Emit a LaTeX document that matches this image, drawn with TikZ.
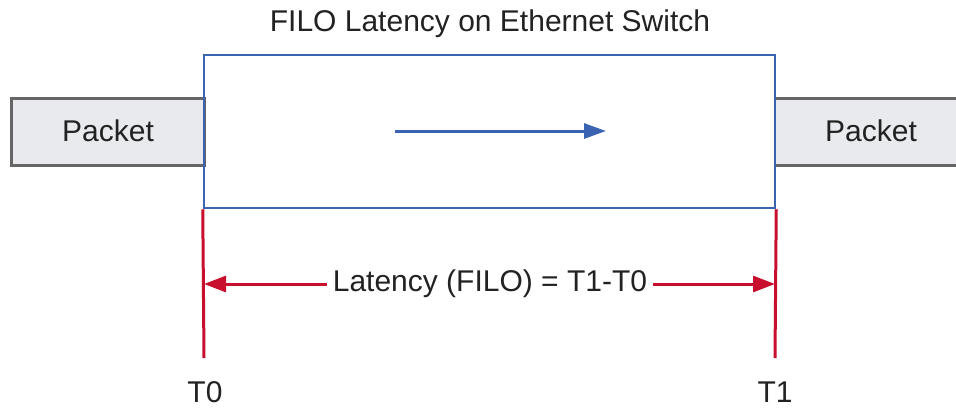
\documentclass[tikz,border=0pt]{standalone}
\usepackage{fontspec}
\setmainfont{Liberation Sans}
\usetikzlibrary{arrows.meta}
\definecolor{boxblue}{HTML}{3A64B2}
\definecolor{markred}{HTML}{C8102E}
\definecolor{pktfill}{HTML}{E8EAEE}
\definecolor{pktedge}{HTML}{666666}
\definecolor{ink}{HTML}{222222}
\begin{document}
\begin{tikzpicture}[x=1pt,y=-1pt,
  lbl/.style={font=\fontsize{30}{35}\selectfont, text=ink, inner sep=0pt},
  pkt/.style={fill=pktfill, draw=pktedge, line width=3pt},
  redline/.style={draw=markred, line width=3pt},
  redarrow/.style={draw=markred, line width=3pt, -{Triangle[length=22pt,width=16pt]}},
  bluearrow/.style={draw=boxblue, line width=3pt, -{Triangle[length=22pt,width=15pt]}}]
\useasboundingbox (0,0) rectangle (956,408);
% packets entering and leaving the switch
\path[pkt] (11,98) rectangle (204,165);
\path[fill=pktfill] (775,98) rectangle (960,165);
\draw[pktedge, line width=3pt] (775,98) -- (960,98) (775,165) -- (960,165);
\node[lbl] (pin) at (108,131) {Packet};
\node[lbl] (pout) at (871,131) {Packet};
% switch body
\node[draw=boxblue, line width=2.5pt, minimum width=571pt, minimum height=153pt, inner sep=0pt] (sw) at (489.5,131.5) {};
\node[lbl] (title) at (490,24) {FILO Latency on Ethernet Switch};
% direction of travel
\coordinate (fa) at (395,131);
\coordinate (fb) at (606,131);
\draw[bluearrow] (fa) -- (fb);
% timestamps
\coordinate (t0top) at (sw.south west);
\coordinate (t1top) at (sw.south east);
\coordinate (t0bot) at (204,358);
\coordinate (t1bot) at (775,358);
\draw[redline] (t0top) -- (t0bot);
\draw[redline] (t1top) -- (t1bot);
\node[lbl] (lat) at (490,284) {Latency (FILO) = T1-T0};
\coordinate (la) at (204,284);
\coordinate (lb) at (775,284);
\draw[redarrow] ([xshift=-6pt]lat.west) -- (la);
\draw[redarrow] ([xshift=6pt]lat.east) -- (lb);
\node[lbl] (t0) at (205,392) {T0};
\node[lbl] (t1) at (775,392) {T1};
\end{tikzpicture}
\end{document}
